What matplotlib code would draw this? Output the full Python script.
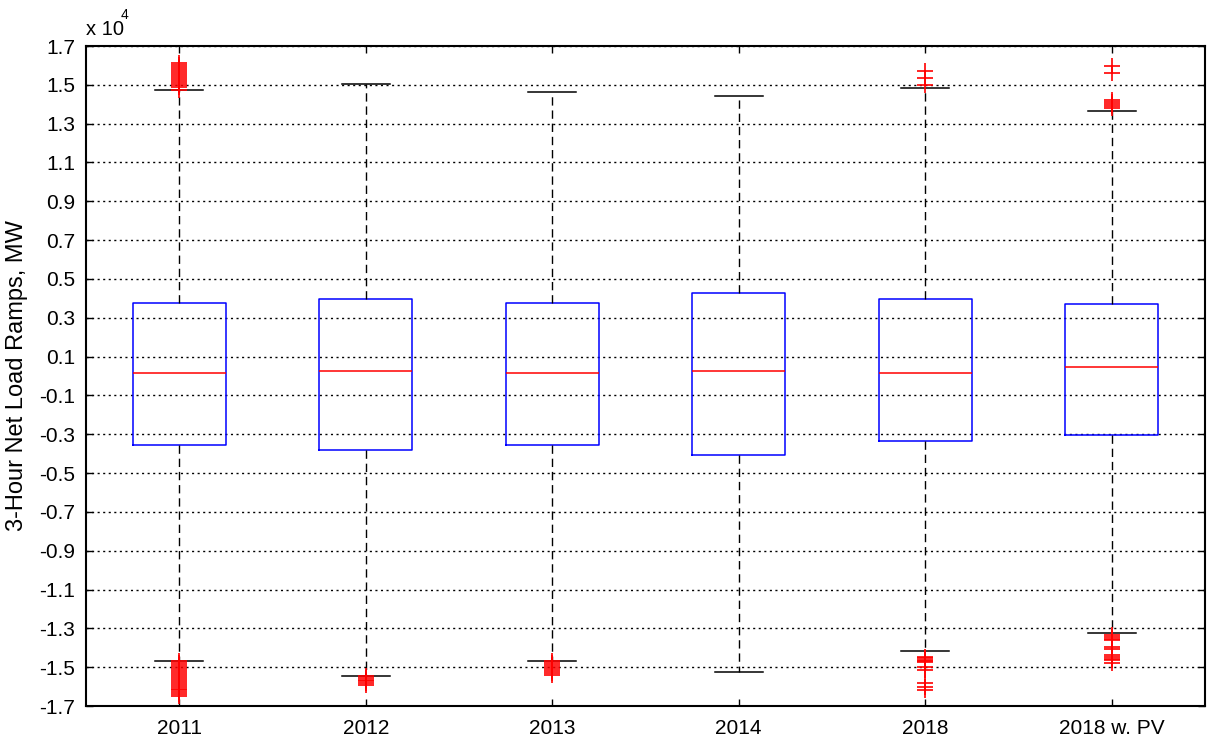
import matplotlib
matplotlib.use("Agg")
import matplotlib.pyplot as plt
import numpy as np

# Values in units of 10^4 MW
categories = ["2011", "2012", "2013", "2014", "2018", "2018 w. PV"]
medians = [0.015, 0.026, 0.015, 0.026, 0.015, 0.046]
q1 = [-0.356, -0.381, -0.356, -0.407, -0.335, -0.304]
q3 = [0.376, 0.397, 0.376, 0.428, 0.397, 0.371]
whisker_low = [-1.468, -1.546, -1.468, -1.525, -1.417, -1.324]
whisker_high = [1.473, 1.504, 1.463, 1.442, 1.484, 1.365]
fliers_2011 = [1.475, 1.49, 1.50, 1.51, 1.52, 1.53, 1.54, 1.55, 1.56, 1.57, 1.58, 1.59, 1.60, 1.612,
               -1.47, -1.48, -1.49, -1.50, -1.51, -1.52, -1.53, -1.54, -1.55, -1.56, -1.57, -1.58,
               -1.59, -1.60, -1.61, -1.62, -1.63, -1.64, -1.65]
fliers_2012 = [-1.548, -1.556, -1.564, -1.572, -1.580, -1.590]
fliers_2013 = [-1.47, -1.48, -1.49, -1.50, -1.51, -1.52, -1.53, -1.54]
fliers_2014 = []
fliers_2018 = [1.571, 1.535, 1.499, -1.448, -1.455, -1.462, -1.468, -1.474, -1.499, -1.515,
               -1.582, -1.602, -1.618]
fliers_2018pv = [1.599, 1.559, 1.381, 1.39, 1.40, 1.41, 1.422,
                 -1.335, -1.345, -1.353, -1.361, -1.397, -1.407, -1.438, -1.447, -1.456,
                 -1.464, -1.479]
fliers = [fliers_2011, fliers_2012, fliers_2013, fliers_2014, fliers_2018, fliers_2018pv]
yticks = [-1.7, -1.5, -1.3, -1.1, -0.9, -0.7, -0.5, -0.3, -0.1, 0.1, 0.3, 0.5, 0.7, 0.9, 1.1, 1.3, 1.5, 1.7]

FONT = ["Liberation Sans", "DejaVu Sans"]
plt.rcParams["font.family"] = FONT

fig = plt.figure(figsize=(12.07, 7.42), dpi=100)
ax = fig.add_axes([86 / 1207, 1 - 706 / 742, (1205 - 86) / 1207, (706 - 46) / 742])

stats = []
for i, c in enumerate(categories):
    stats.append(dict(label=c, med=medians[i], q1=q1[i], q3=q3[i],
                      whislo=whisker_low[i], whishi=whisker_high[i],
                      fliers=np.array(fliers[i])))

ax.bxp(stats, positions=np.arange(1, len(categories) + 1), widths=0.5, capwidths=0.26,
       boxprops=dict(color="#0000ff", linewidth=1.1),
       medianprops=dict(color="#ff0000", linewidth=1.1),
       whiskerprops=dict(color="black", linewidth=1.0, linestyle=(0, (6, 3.5))),
       capprops=dict(color="black", linewidth=1.1),
       flierprops=dict(marker="+", markeredgecolor="#ff0000", markersize=12, markeredgewidth=1.2,
                       linestyle="none"),
       manage_ticks=False, zorder=3)

ax.set_xlim(0.5, 6.5)
ax.set_ylim(-1.7, 1.7)
ax.set_xticks(np.arange(1, len(categories) + 1))
ax.set_xticklabels(categories)
ax.set_yticks(yticks)
ax.set_yticklabels([f"{v:.1f}" for v in yticks])
ax.yaxis.grid(True, linestyle=(0, (1.5, 2.5)), color="black", linewidth=1.0)
ax.set_axisbelow(True)
ax.tick_params(axis="both", direction="in", length=5, width=1, labelsize=15)
ax.tick_params(axis="y", pad=8, right=True)
ax.tick_params(axis="x", pad=9, top=True)
for s in ax.spines.values():
    s.set_linewidth(1.5)

ax.set_ylabel("3-Hour Net Load Ramps, MW", fontsize=17, labelpad=8)

fig.text(86 / 1207, 1 - 35 / 742, "x 10", fontsize=14.5, ha="left", va="baseline")
fig.text(121 / 1207, 1 - 19 / 742, "4", fontsize=10, ha="left", va="baseline")

fig.savefig("out.png", dpi=100)
